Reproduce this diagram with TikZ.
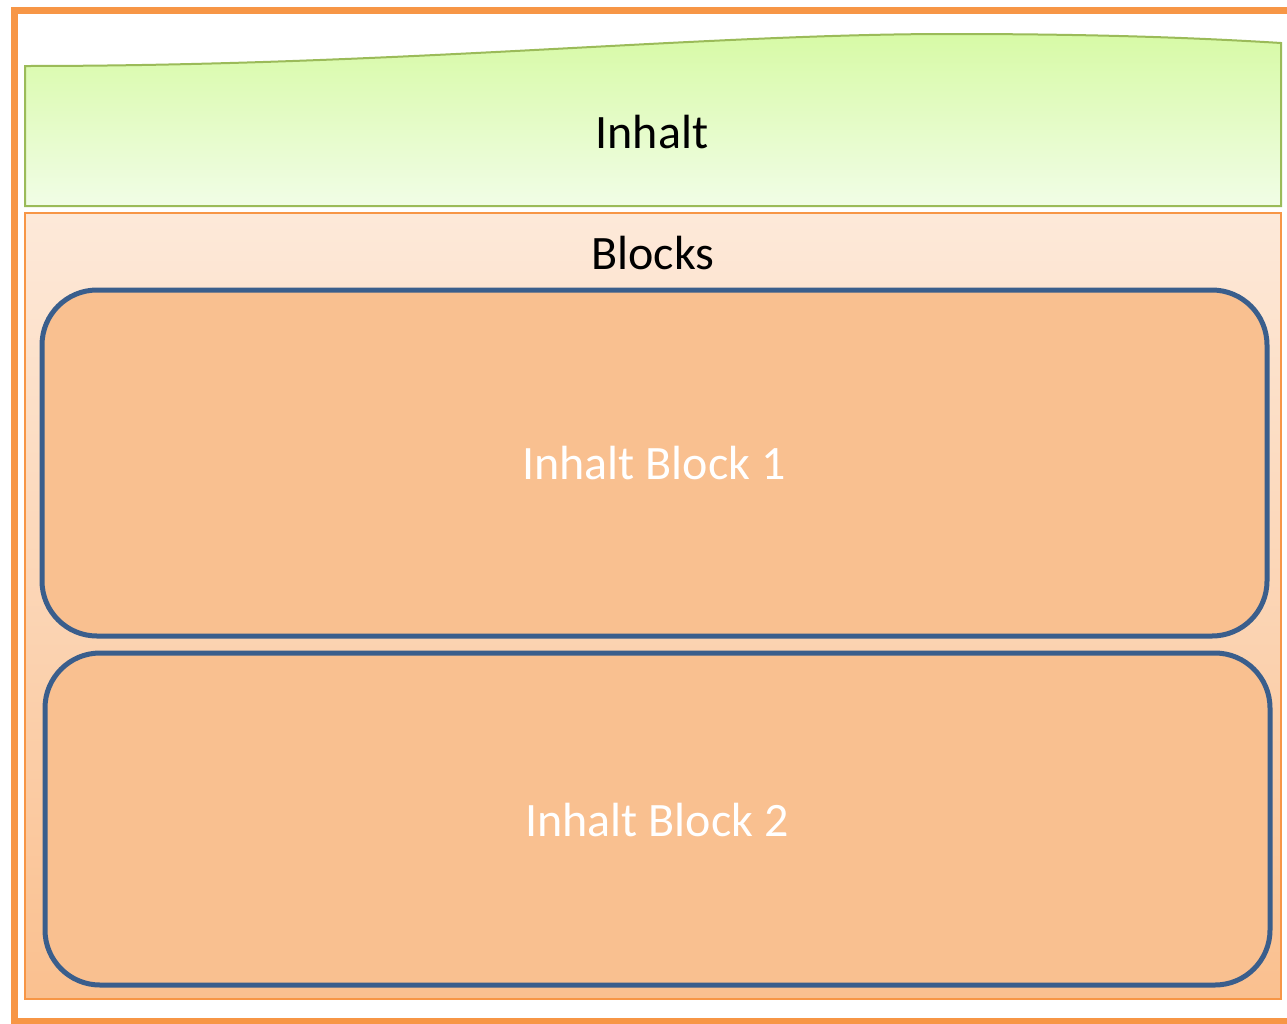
\documentclass[tikz,border=0pt]{standalone}
\usepackage{fontspec}
\setmainfont{Carlito}
\definecolor{frameorange}{HTML}{F79646}
\definecolor{wavegreen}{HTML}{9BBB59}
\definecolor{wavetop}{HTML}{D7FAA6}
\definecolor{wavebot}{HTML}{F1FDE6}
\definecolor{blkstop}{HTML}{FDE9D9}
\definecolor{blksbot}{HTML}{FAC08F}
\definecolor{blockfill}{HTML}{F9C090}
\definecolor{blockline}{HTML}{3A5E8C}
\tikzset{
  bigtext/.style={font=\fontsize{48}{57}\selectfont, inner sep=0pt},
  blockbox/.style={draw=blockline, fill=blockfill, line width=5pt, rounded corners=55pt},
}
\begin{document}
\begin{tikzpicture}[x=1pt,y=-1pt]
\useasboundingbox (0,0) rectangle (1287,1023);
\fill[white] (0,0) rectangle (1287,1023);
% outer frame
\draw[frameorange, line width=7pt] (14.5,10) rectangle (1300,1021.5);
% wave header
\path[draw=wavegreen, line width=2pt, top color=wavetop, bottom color=wavebot]
  (25,206) -- (25,66) .. controls (400,66) and (700,34) .. (950,34)
  .. controls (1100,34) and (1200,38) .. (1281,43) -- (1281,206) -- cycle;
\node[bigtext] (inhalt) at (652,132) {Inhalt};
% blocks container
\path[draw=frameorange, line width=2pt, top color=blkstop, bottom color=blksbot]
  (25,213) rectangle (1281,999);
\node[bigtext] (blocks) at (653,253) {Blocks};
% block 1
\path[blockbox] (42,290) rectangle (1267,636);
\node[bigtext, text=white] (b1) at (654,463) {Inhalt Block 1};
% block 2
\path[blockbox] (45,653) rectangle (1270,985);
\node[bigtext, text=white] (b2) at (657,820) {Inhalt Block 2};
\end{tikzpicture}
\end{document}
